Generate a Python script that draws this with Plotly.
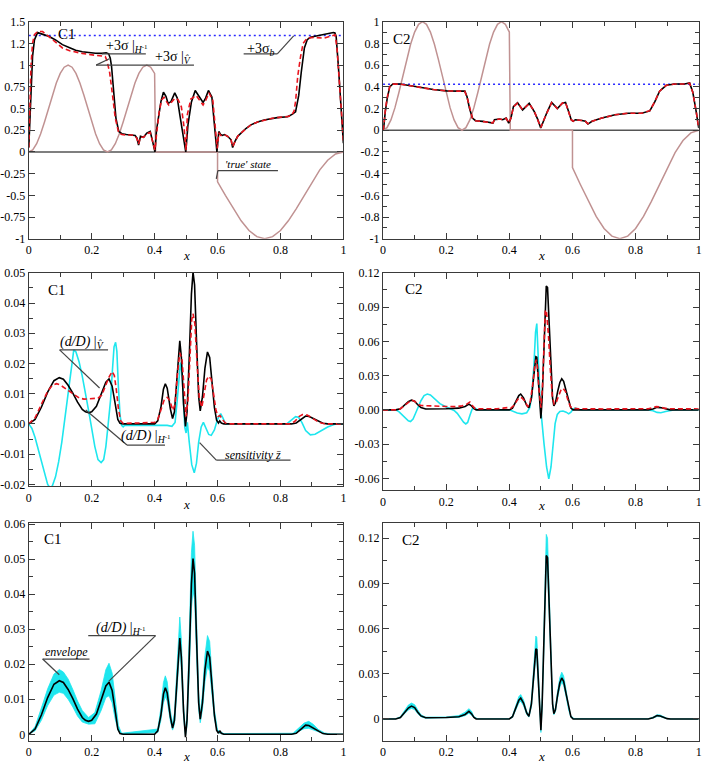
import plotly.graph_objects as go

# ---------------- data ----------------
true_x = [0.0, 0.0125, 0.025, 0.0375, 0.05, 0.0625, 0.075, 0.0875, 0.1, 0.1125, 0.125, 0.1375, 0.15, 0.1625,
          0.175, 0.1875, 0.2, 0.2125, 0.225, 0.2375, 0.25, 0.2625, 0.275, 0.2875, 0.3, 0.3125, 0.325, 0.3375,
          0.35, 0.3625, 0.375, 0.3875, 0.4, 0.403, 0.6, 0.6, 0.625, 0.65, 0.675, 0.7, 0.725, 0.75, 0.775, 0.8,
          0.825, 0.85, 0.875, 0.9, 0.925, 0.95, 0.975, 1.0]
true_y = [0, 0.024, 0.095, 0.206, 0.345, 0.5, 0.655, 0.794, 0.905, 0.976, 1.0, 0.976, 0.905, 0.794, 0.655,
          0.5, 0.345, 0.206, 0.095, 0.024, 0, 0.024, 0.095, 0.206, 0.345, 0.5, 0.655, 0.794, 0.905, 0.976,
          1.0, 0.976, 0.905, 0, 0, -0.345, -0.5, -0.655, -0.794, -0.905, -0.976, -1.0, -0.976, -0.905,
          -0.794, -0.655, -0.5, -0.345, -0.206, -0.095, -0.024, 0]

# C1 : +3 sigma |H^-1 (black) and +3 sigma |V (red dashed)
s1_x = [0, 0.004, 0.007, 0.012, 0.018, 0.028, 0.04, 0.065, 0.085, 0.107, 0.13, 0.149, 0.17, 0.191, 0.212,
        0.233, 0.246, 0.254, 0.259, 0.263, 0.27, 0.277, 0.286, 0.296, 0.31, 0.328, 0.338, 0.344, 0.349, 0.355,
        0.365, 0.375, 0.386, 0.393, 0.401, 0.406, 0.412, 0.42, 0.428, 0.436, 0.443, 0.452, 0.464, 0.472, 0.48,
        0.49, 0.499, 0.506, 0.517, 0.529, 0.54, 0.554, 0.562, 0.571, 0.582, 0.59, 0.598, 0.604, 0.61, 0.615,
        0.622, 0.632, 0.643, 0.648, 0.655, 0.664, 0.674, 0.69, 0.706, 0.727, 0.748, 0.77, 0.79, 0.822, 0.837,
        0.848, 0.853, 0.858, 0.866, 0.876, 0.885, 0.895, 0.906, 0.92, 0.937, 0.953, 0.968, 0.973, 0.977, 0.984,
        0.99, 0.995, 1.0]
s1_y = [0.05, 0.45, 0.8, 1.1, 1.29, 1.375, 1.36, 1.33, 1.29, 1.236, 1.2, 1.172, 1.155, 1.142, 1.137,
        1.135, 1.142, 1.13, 1.08, 0.99, 0.69, 0.39, 0.236, 0.21, 0.2, 0.198, 0.19, 0.16, 0.08, 0.179,
        0.168, 0.217, 0.236, 0.13, 0.0, 0.25, 0.39, 0.58, 0.689, 0.64, 0.557, 0.58, 0.68, 0.62, 0.43,
        0.22, 0.0, 0.312, 0.576, 0.708, 0.64, 0.569, 0.62, 0.708, 0.632, 0.35, 0.0, 0.236, 0.2, 0.19,
        0.2, 0.18, 0.14, 0.05, 0.12, 0.18, 0.217, 0.27, 0.312, 0.345, 0.368, 0.385, 0.395, 0.406, 0.432,
        0.462, 0.55, 0.651, 0.915, 1.198, 1.293, 1.32, 1.33, 1.34, 1.349, 1.36, 1.376, 1.37, 1.33, 0.99,
        0.614, 0.3, 0.1]
r1_x = [0, 0.004, 0.007, 0.012, 0.018, 0.028, 0.044, 0.07, 0.09, 0.107, 0.13, 0.149, 0.17, 0.191, 0.212,
        0.233, 0.243, 0.249, 0.257, 0.265, 0.275, 0.286, 0.296, 0.31, 0.328, 0.338, 0.344, 0.349, 0.355, 0.365,
        0.375, 0.386, 0.393, 0.401, 0.406, 0.414, 0.422, 0.43, 0.438, 0.445, 0.455, 0.465, 0.475, 0.485, 0.493,
        0.5, 0.504, 0.515, 0.532, 0.543, 0.554, 0.563, 0.573, 0.585, 0.592, 0.599, 0.604, 0.61, 0.615, 0.622,
        0.632, 0.643, 0.648, 0.655, 0.664, 0.674, 0.69, 0.706, 0.727, 0.748, 0.77, 0.79, 0.81, 0.825, 0.835,
        0.843, 0.848, 0.855, 0.864, 0.872, 0.885, 0.906, 0.937, 0.958, 0.974, 0.98, 0.99, 0.995, 1.0]
r1_y = [0.05, 0.6, 0.99, 1.25, 1.35, 1.387, 1.387, 1.31, 1.25, 1.198, 1.165, 1.149, 1.135, 1.123, 1.115,
        1.11, 1.1, 1.047, 0.915, 0.689, 0.388, 0.217, 0.2, 0.195, 0.195, 0.185, 0.15, 0.09, 0.17, 0.17,
        0.21, 0.225, 0.14, 0.02, 0.2, 0.45, 0.6, 0.63, 0.58, 0.54, 0.58, 0.62, 0.6, 0.52, 0.3,
        0.02, 0.43, 0.61, 0.65, 0.6, 0.54, 0.6, 0.68, 0.594, 0.35, 0.04, 0.22, 0.19, 0.19, 0.2,
        0.18, 0.14, 0.06, 0.12, 0.18, 0.217, 0.27, 0.312, 0.345, 0.368, 0.385, 0.395, 0.4, 0.41, 0.42,
        0.47, 0.58, 0.877, 1.1, 1.25, 1.31, 1.32, 1.31, 1.337, 1.349, 1.18, 0.72, 0.4, 0.12]
sigb_c1 = 1.342

# C2 : +3 sigma curves
s2_x = [0, 0.002, 0.007, 0.013, 0.021, 0.031, 0.054, 0.086, 0.117, 0.159, 0.201, 0.243, 0.259, 0.266, 0.274,
        0.283, 0.293, 0.316, 0.34, 0.348, 0.353, 0.369, 0.379, 0.39, 0.398, 0.405, 0.413, 0.426, 0.442, 0.463,
        0.479, 0.49, 0.4995, 0.51, 0.52, 0.534, 0.552, 0.568, 0.578, 0.588, 0.596, 0.602, 0.609, 0.63, 0.641,
        0.649, 0.662, 0.693, 0.735, 0.777, 0.819, 0.845, 0.861, 0.876, 0.897, 0.924, 0.955, 0.971, 0.981, 0.992,
        1.0]
s2_y = [0.0, 0.02, 0.17, 0.29, 0.4, 0.426, 0.426, 0.414, 0.396, 0.375, 0.363, 0.36, 0.36, 0.308, 0.2,
        0.112, 0.088, 0.082, 0.075, 0.066, 0.097, 0.103, 0.097, 0.112, 0.066, 0.11, 0.218, 0.254, 0.187, 0.248,
        0.172, 0.1, 0.02, 0.1, 0.17, 0.257, 0.2, 0.25, 0.257, 0.17, 0.097, 0.082, 0.097, 0.09, 0.082,
        0.057, 0.082, 0.112, 0.142, 0.157, 0.157, 0.178, 0.263, 0.36, 0.414, 0.426, 0.426, 0.435, 0.353, 0.17,
        0.02]
r2_y = [0.0, 0.03, 0.18, 0.3, 0.4, 0.425, 0.425, 0.413, 0.395, 0.375, 0.362, 0.36, 0.358, 0.305, 0.2,
        0.112, 0.088, 0.082, 0.075, 0.068, 0.095, 0.103, 0.097, 0.11, 0.068, 0.11, 0.215, 0.25, 0.19, 0.245,
        0.175, 0.1, 0.025, 0.1, 0.17, 0.255, 0.2, 0.25, 0.255, 0.17, 0.097, 0.082, 0.097, 0.09, 0.082,
        0.06, 0.082, 0.112, 0.142, 0.157, 0.157, 0.18, 0.265, 0.36, 0.414, 0.426, 0.426, 0.433, 0.35, 0.17,
        0.02]
sigb_c2 = 0.423

# C1 : (d/D) curves and sensitivity
d1_x = [0, 0.02, 0.04, 0.06, 0.08, 0.097, 0.11, 0.125, 0.14, 0.155, 0.17, 0.18, 0.19, 0.2, 0.215, 0.23, 0.245,
        0.255, 0.265, 0.275, 0.283, 0.29, 0.3, 0.4, 0.41, 0.42, 0.428, 0.434, 0.44, 0.45, 0.457, 0.463, 0.47,
        0.477, 0.48, 0.485, 0.492, 0.498, 0.503, 0.51, 0.517, 0.522, 0.527, 0.533, 0.54, 0.545, 0.552, 0.56,
        0.568, 0.575, 0.583, 0.59, 0.597, 0.603, 0.607, 0.612, 0.62, 0.835, 0.85, 0.865, 0.88, 0.89, 0.905,
        0.92, 0.935, 0.95, 1.0]
d1_y = [0, 0.0015, 0.0055, 0.0105, 0.0143, 0.0153, 0.0148, 0.0128, 0.0102, 0.0072, 0.0048, 0.004, 0.0037,
        0.004, 0.0058, 0.0095, 0.0138, 0.0149, 0.0125, 0.0065, 0.0015, 0.0002, 0, 0, 0.001, 0.0055, 0.0115,
        0.0133, 0.0118, 0.005, 0.0018, 0.004, 0.015, 0.0265, 0.0275, 0.022, 0.0065, -0.0008, 0.004, 0.022,
        0.043, 0.0502, 0.046, 0.028, 0.009, 0.0043, 0.009, 0.0185, 0.0238, 0.022, 0.013, 0.0055, 0.0012,
        0.0003, 0.001, 0.0003, 0, 0, 0.0003, 0.0015, 0.0026, 0.0025, 0.0017, 0.0008, 0.0002, 0, 0]
v1_x = [0, 0.02, 0.04, 0.06, 0.075, 0.088, 0.1, 0.115, 0.13, 0.145, 0.16, 0.175, 0.19, 0.205, 0.22, 0.232,
        0.245, 0.255, 0.265, 0.272, 0.278, 0.285, 0.292, 0.3, 0.35, 0.4, 0.41, 0.42, 0.43, 0.44, 0.448, 0.458,
        0.465, 0.472, 0.48, 0.487, 0.493, 0.5, 0.506, 0.512, 0.518, 0.522, 0.528, 0.535, 0.542, 0.55, 0.557,
        0.565, 0.572, 0.58, 0.588, 0.595, 0.602, 0.608, 0.615, 0.625, 0.64, 0.83, 0.845, 0.86, 0.87, 0.885,
        0.9, 0.915, 0.93, 0.945, 1.0]
v1_y = [0, 0.002, 0.0065, 0.0108, 0.0128, 0.0133, 0.0129, 0.0118, 0.0105, 0.0094, 0.0086, 0.0082, 0.0083,
        0.0084, 0.0085, 0.0095, 0.0128, 0.0155, 0.0173, 0.016, 0.0115, 0.005, 0.001, 0.0002, 0.0003, 0.0005,
        0.0015, 0.0045, 0.0078, 0.0088, 0.0078, 0.0045, 0.0065, 0.016, 0.0235, 0.0215, 0.012, 0.0025, 0.008,
        0.022, 0.0345, 0.0365, 0.033, 0.02, 0.0085, 0.0055, 0.0095, 0.0145, 0.0158, 0.0148, 0.0095, 0.0045,
        0.0025, 0.0028, 0.0015, 0.0003, 0, 0, 0.0008, 0.0025, 0.0031, 0.0029, 0.002, 0.001, 0.0003, 0, 0]
z1_x = [0, 0.01, 0.02, 0.03, 0.04, 0.05, 0.06, 0.068, 0.075, 0.085, 0.095, 0.105, 0.115, 0.125, 0.135, 0.143,
        0.15, 0.16, 0.17, 0.18, 0.19, 0.2, 0.21, 0.22, 0.23, 0.238, 0.245, 0.252, 0.26, 0.266, 0.271, 0.276,
        0.28, 0.285, 0.29, 0.295, 0.3, 0.305, 0.32, 0.4, 0.44, 0.455, 0.465, 0.472, 0.478, 0.482, 0.487, 0.492,
        0.496, 0.5, 0.504, 0.51, 0.518, 0.526, 0.533, 0.54, 0.548, 0.555, 0.562, 0.572, 0.58, 0.59, 0.6, 0.61,
        0.617, 0.625, 0.82, 0.835, 0.848, 0.857, 0.868, 0.88, 0.895, 0.91, 0.93, 0.95, 0.97, 0.98, 1.0]
z1_y = [0, -0.0015, -0.0045, -0.0085, -0.0128, -0.0168, -0.02, -0.0212, -0.0205, -0.0175, -0.0125, -0.006,
        0.002, 0.011, 0.0198, 0.0245, 0.0238, 0.0205, 0.0158, 0.0105, 0.0045, -0.0015, -0.0075, -0.0118,
        -0.0128, -0.0118, -0.0075, -0.0005, 0.008, 0.018, 0.0255, 0.027, 0.024, 0.012, 0.003, -0.0005, -0.001,
        -0.0004, -0.0004, -0.0004, -0.0005, -0.0008, 0.0005, 0.008, 0.017, 0.0203, 0.017, 0.006, -0.0012,
        -0.003, 0.0005, -0.006, -0.0135, -0.0162, -0.013, -0.006, -0.001, 0.0005, -0.001, -0.0035, -0.0038,
        -0.002, 0.0015, 0.0034, 0.002, 0, 0, 0.0012, 0.0024, 0.0022, 0.0005, -0.0022, -0.0036, -0.0034,
        -0.0022, -0.001, -0.0002, 0, 0]

# C2 : (d/D) curves and sensitivity
d2_x = [0, 0.04, 0.055, 0.07, 0.08, 0.09, 0.1, 0.11, 0.12, 0.135, 0.16, 0.2, 0.24, 0.26, 0.272, 0.28, 0.288,
        0.295, 0.4, 0.41, 0.42, 0.43, 0.436, 0.445, 0.455, 0.462, 0.47, 0.477, 0.484, 0.487, 0.492, 0.496, 0.5,
        0.504, 0.51, 0.514, 0.517, 0.521, 0.526, 0.532, 0.537, 0.541, 0.546, 0.553, 0.56, 0.566, 0.572, 0.58,
        0.588, 0.595, 0.602, 0.84, 0.855, 0.868, 0.878, 0.89, 0.9, 0.91, 1.0]
d2_y = [0, 0, 0.001, 0.0045, 0.0072, 0.0085, 0.0075, 0.0045, 0.002, 0.0008, 0.0008, 0.001, 0.0015, 0.003,
        0.005, 0.0035, 0.001, 0, 0, 0.0015, 0.007, 0.0125, 0.0138, 0.0105, 0.004, 0.0018, 0.01, 0.03, 0.0465,
        0.046, 0.028, 0.008, -0.0075, 0.01, 0.06, 0.1, 0.1085, 0.107, 0.075, 0.035, 0.01, 0.0035, 0.006,
        0.016, 0.024, 0.0272, 0.025, 0.0165, 0.007, 0.0015, 0, 0, 0.0008, 0.0022, 0.002, 0.001, 0.0002, 0, 0]
v2_x = [0, 0.04, 0.055, 0.07, 0.08, 0.09, 0.1, 0.11, 0.12, 0.14, 0.17, 0.2, 0.23, 0.25, 0.265, 0.275, 0.282,
        0.29, 0.3, 0.33, 0.36, 0.38, 0.395, 0.405, 0.415, 0.425, 0.432, 0.44, 0.448, 0.458, 0.465, 0.473, 0.48,
        0.485, 0.489, 0.494, 0.5, 0.505, 0.51, 0.514, 0.518, 0.524, 0.53, 0.536, 0.542, 0.548, 0.555, 0.563,
        0.57, 0.578, 0.585, 0.593, 0.6, 0.62, 0.7, 0.8, 0.84, 0.855, 0.865, 0.878, 0.89, 0.905, 0.95, 1.0]
v2_y = [0, 0, 0.001, 0.0045, 0.007, 0.0085, 0.0075, 0.005, 0.0038, 0.0035, 0.003, 0.003, 0.0028, 0.0035,
        0.005, 0.0068, 0.004, 0.0015, 0.001, 0.0008, 0.001, 0.0015, 0.002, 0.0015, 0.004, 0.0085, 0.011,
        0.0105, 0.008, 0.003, 0.005, 0.02, 0.038, 0.044, 0.038, 0.018, 0.002, 0.02, 0.065, 0.0875, 0.085,
        0.065, 0.035, 0.012, 0.005, 0.006, 0.0115, 0.017, 0.019, 0.016, 0.009, 0.003, 0.0015, 0.001, 0.0008,
        0.0008, 0.001, 0.002, 0.0028, 0.0025, 0.0015, 0.001, 0.0008, 0.0008]
z2_x = [0, 0.04, 0.05, 0.06, 0.07, 0.08, 0.087, 0.095, 0.103, 0.11, 0.12, 0.13, 0.14, 0.15, 0.165, 0.18, 0.2,
        0.215, 0.225, 0.235, 0.245, 0.255, 0.262, 0.268, 0.275, 0.282, 0.288, 0.295, 0.3, 0.4, 0.41, 0.425,
        0.44, 0.455, 0.465, 0.472, 0.478, 0.483, 0.487, 0.49, 0.494, 0.498, 0.503, 0.51, 0.518, 0.525, 0.532,
        0.538, 0.545, 0.552, 0.56, 0.57, 0.58, 0.588, 0.595, 0.602, 0.61, 0.62, 0.63, 0.84, 0.855, 0.868,
        0.88, 0.895, 0.91, 0.92, 1.0]
z2_y = [0, 0, -0.0015, -0.004, -0.007, -0.0095, -0.0102, -0.008, -0.003, 0.002, 0.008, 0.0125, 0.0138,
        0.013, 0.0095, 0.0055, 0.0025, 0.001, -0.0005, -0.003, -0.007, -0.0108, -0.0123, -0.011, -0.005,
        0.0005, 0.002, 0.001, 0, 0, -0.001, -0.0028, -0.0035, -0.0025, 0.002, 0.015, 0.04, 0.068, 0.0755,
        0.06, 0.03, 0.005, -0.012, -0.03, -0.05, -0.0605, -0.05, -0.03, -0.012, -0.004, -0.0015, -0.001,
        -0.002, -0.0035, -0.002, 0.0008, 0.0015, 0.0003, 0, 0, -0.0008, -0.0022, -0.0025, -0.0015, -0.0003,
        0, 0]

# envelopes (bottom panels)
e1_x = [0, 0.02, 0.04, 0.06, 0.08, 0.097, 0.11, 0.125, 0.14, 0.155, 0.17, 0.19, 0.21, 0.23, 0.245, 0.255,
        0.265, 0.275, 0.285, 0.295, 0.41, 0.42, 0.428, 0.434, 0.44, 0.45, 0.457, 0.463, 0.47, 0.477, 0.48,
        0.485, 0.492, 0.498, 0.503, 0.51, 0.517, 0.522, 0.527, 0.533, 0.54, 0.545, 0.552, 0.56, 0.568, 0.575,
        0.583, 0.59, 0.6, 0.62, 0.84, 0.86, 0.875, 0.89, 0.905, 0.92, 0.94, 0.96, 1.0]
e1_hi = [0, 0.0022, 0.0075, 0.013, 0.0172, 0.0185, 0.0178, 0.0158, 0.0128, 0.0095, 0.0068, 0.0048, 0.0062,
         0.0125, 0.0185, 0.0203, 0.0175, 0.0098, 0.0025, 0.0003, 0.0015, 0.0075, 0.0148, 0.0167, 0.015,
         0.0068, 0.003, 0.006, 0.019, 0.032, 0.0335, 0.027, 0.0085, 0.0005, 0.006, 0.028, 0.052, 0.058, 0.054,
         0.034, 0.012, 0.0058, 0.0115, 0.0225, 0.0282, 0.0265, 0.016, 0.007, 0.0012, 0.0002, 0.0003, 0.0018,
         0.0032, 0.0037, 0.0028, 0.0014, 0.0004, 0.0001, 0]
e1_lo = [0, 0.001, 0.004, 0.0082, 0.0112, 0.012, 0.0117, 0.01, 0.0078, 0.0052, 0.0035, 0.0029, 0.003,
         0.0068, 0.0105, 0.011, 0.009, 0.0042, 0.0008, 0, 0.0005, 0.004, 0.009, 0.0108, 0.0095, 0.0038,
         0.0012, 0.0028, 0.011, 0.0225, 0.025, 0.0185, 0.005, -0.0005, 0.0025, 0.017, 0.036, 0.041, 0.0385,
         0.023, 0.007, 0.0033, 0.007, 0.015, 0.0193, 0.018, 0.0105, 0.0045, 0.0005, 0, 0, 0.0008, 0.0016,
         0.0017, 0.0012, 0.0006, 0.0001, 0, 0]
e2_x = [0, 0.04, 0.055, 0.07, 0.08, 0.09, 0.1, 0.11, 0.12, 0.135, 0.2, 0.24, 0.26, 0.272, 0.28, 0.288, 0.3,
        0.4, 0.41, 0.42, 0.43, 0.436, 0.445, 0.455, 0.462, 0.47, 0.477, 0.484, 0.487, 0.492, 0.496, 0.5, 0.504,
        0.51, 0.514, 0.517, 0.521, 0.526, 0.532, 0.537, 0.541, 0.546, 0.553, 0.56, 0.566, 0.572, 0.58, 0.588,
        0.595, 0.605, 0.84, 0.855, 0.868, 0.878, 0.89, 0.9, 0.915, 1.0]
e2_hi = [0, 0.0002, 0.0015, 0.006, 0.0092, 0.0105, 0.0095, 0.006, 0.0028, 0.0012, 0.0013, 0.0022, 0.0045,
         0.0068, 0.0052, 0.0015, 0.0002, 0.0002, 0.0022, 0.0085, 0.0148, 0.0162, 0.0125, 0.0052, 0.0025,
         0.0125, 0.036, 0.055, 0.054, 0.033, 0.01, -0.005, 0.013, 0.07, 0.113, 0.1225, 0.12, 0.085, 0.04,
         0.012, 0.0045, 0.0075, 0.0185, 0.0275, 0.031, 0.0285, 0.019, 0.0082, 0.002, 0.0003, 0.0002, 0.0012,
         0.0028, 0.0026, 0.0014, 0.0004, 0, 0]
e2_lo = [0, 0, 0.0007, 0.0035, 0.006, 0.007, 0.0062, 0.0035, 0.0014, 0.0005, 0.0007, 0.001, 0.0022, 0.0038,
         0.0025, 0.0007, 0, 0, 0.001, 0.0058, 0.0105, 0.0118, 0.0088, 0.003, 0.0012, 0.008, 0.025, 0.041,
         0.04, 0.024, 0.006, -0.009, 0.007, 0.052, 0.091, 0.1, 0.098, 0.068, 0.031, 0.008, 0.0028, 0.0048,
         0.0138, 0.021, 0.0245, 0.0222, 0.0145, 0.0058, 0.001, 0, 0, 0.0005, 0.0016, 0.0015, 0.0007, 0.0001,
         0, 0]

x_ticks = [0, 0.2, 0.4, 0.6, 0.8, 1.0]
x_labels = ["0", "0.2", "0.4", "0.6", "0.8", "1"]
y1_ticks = [-1, -0.75, -0.5, -0.25, 0, 0.25, 0.5, 0.75, 1, 1.25, 1.5]
y1_labels = ["-1", "-0.75", "-0.5", "-0.25", "0", "0.25", "0.5", "0.75", "1", "1.2", "1.5"]
y2_ticks = [-1, -0.8, -0.6, -0.4, -0.2, 0, 0.2, 0.4, 0.6, 0.8, 1]
y2_labels = ["-1", "-0.8", "-0.6", "-0.4", "-0.2", "0", "0.2", "0.4", "0.6", "0.8", "1"]
y3_ticks = [-0.02, -0.01, 0, 0.01, 0.02, 0.03, 0.04, 0.05]
y3_labels = ["-0.02", "-0.01", "0.00", "0.01", "0.02", "0.03", "0.04", "0.05"]
y4_ticks = [-0.06, -0.03, 0, 0.03, 0.06, 0.09, 0.12]
y4_labels = ["-0.06", "-0.03", "0.00", "0.03", "0.06", "0.09", "0.12"]
y5_ticks = [0, 0.01, 0.02, 0.03, 0.04, 0.05, 0.06]
y5_labels = ["0", "0.01", "0.02", "0.03", "0.04", "0.05", "0.06"]
y6_ticks = [0, 0.03, 0.06, 0.09, 0.12]
y6_labels = ["0", "0.03", "0.06", "0.09", "0.12"]

# ---------------- figure ----------------
W, H = 708, 774
FONT = "Liberation Serif, Times New Roman, serif"
BLACK = "#000000"
RED = "#e8141e"
CYAN = "#1ee6ee"
ROSY = "rgb(192,146,146)"
BLUE = "#2a2aff"
AX = "#3a3a3a"

fig = go.Figure()

def px_dom_x(a, b):
    return [a / W, b / W]

def px_dom_y(top, bot):
    return [1 - bot / H, 1 - top / H]

panels = {
    1: dict(dx=px_dom_x(26, 343.3), dy=px_dom_y(15, 236), yr=[-1, 1.5], yt=y1_ticks, yl=y1_labels, ym=None),
    2: dict(dx=px_dom_x(383.3, 701.7), dy=px_dom_y(15, 236), yr=[-1, 1], yt=y2_ticks, yl=y2_labels, ym=0.1),
    3: dict(dx=px_dom_x(26, 343.3), dy=px_dom_y(270.7, 488.3), yr=[-0.0207, 0.05], yt=y3_ticks, yl=y3_labels, ym=0.005),
    4: dict(dx=px_dom_x(383.3, 701.7), dy=px_dom_y(270.7, 492.3), yr=[-0.0705, 0.12], yt=y4_ticks, yl=y4_labels, ym=0.015),
    5: dict(dx=px_dom_x(26, 343.3), dy=px_dom_y(525, 747.3), yr=[-0.00185, 0.0605], yt=y5_ticks, yl=y5_labels, ym=0.005),
    6: dict(dx=px_dom_x(383.3, 701.7), dy=px_dom_y(525, 747.3), yr=[-0.0145, 0.1304], yt=y6_ticks, yl=y6_labels, ym=0.015),
}

common = dict(showline=True, linecolor=AX, linewidth=1.3, mirror="allticks", ticks="inside",
              ticklen=6, tickwidth=1, tickcolor=AX, showgrid=False, zeroline=False,
              tickfont=dict(family=FONT, size=12, color="black"), fixedrange=True,
              ticklabeloverflow="allow")

layout = dict(width=W, height=H, margin=dict(l=0, r=0, t=0, b=0), autosize=False,
              paper_bgcolor="white", plot_bgcolor="white", showlegend=False,
              font=dict(family=FONT, color="black"))

for i, p in panels.items():
    sfx = "" if i == 1 else str(i)
    xa = dict(common, domain=p["dx"], range=[0, 1], anchor="y" + sfx, tickmode="array",
              tickvals=x_ticks, ticktext=x_labels,
              minor=dict(tickmode="linear", tick0=0, dtick=0.1, ticklen=4, tickcolor=AX, ticks="inside"))
    ya = dict(common, domain=p["dy"], range=p["yr"], anchor="x" + sfx, tickmode="array",
              tickvals=p["yt"], ticktext=p["yl"])
    if p["ym"]:
        ya["minor"] = dict(tickmode="linear", tick0=0, dtick=p["ym"], ticklen=4, tickcolor=AX, ticks="inside")
    layout["xaxis" + sfx] = xa
    layout["yaxis" + sfx] = ya

fig.update_layout(**layout)

def line(xs, ys, i, color, width=1.5, dash=None, **kw):
    sfx = "" if i == 1 else str(i)
    ln = dict(color=color, width=width)
    if dash:
        ln["dash"] = dash
    fig.add_trace(go.Scatter(x=xs, y=ys, mode="lines", line=ln, xaxis="x" + sfx, yaxis="y" + sfx,
                             hoverinfo="skip", **kw))

# top panels
for i, (sx, sy, rx, ry, sb) in {1: (s1_x, s1_y, r1_x, r1_y, sigb_c1), 2: (s2_x, s2_y, s2_x, r2_y, sigb_c2)}.items():
    line([0, 1], [0, 0], i, "#555555", 1.5)
    line(true_x, true_y, i, ROSY, 1.5)
    line([0, 1], [sb, sb], i, BLUE, 1.5, dash="2px,3px")
    line(sx, sy, i, BLACK, 1.6)
    line(rx, ry, i, RED, 1.6, dash="5px,3px")

# middle panels
line(z1_x, z1_y, 3, CYAN, 1.6)
line(d1_x, d1_y, 3, BLACK, 1.6)
line(v1_x, v1_y, 3, RED, 1.6, dash="5px,3px")
line(z2_x, z2_y, 4, CYAN, 1.6)
line(d2_x, d2_y, 4, BLACK, 1.6)
line(v2_x, v2_y, 4, RED, 1.6, dash="5px,3px")

# bottom panels
for i, (ex, lo, hi, dx, dy) in {5: (e1_x, e1_lo, e1_hi, d1_x, d1_y), 6: (e2_x, e2_lo, e2_hi, d2_x, d2_y)}.items():
    line(ex, lo, i, CYAN, 0.8)
    line(ex, hi, i, CYAN, 0.8, fill="tonexty", fillcolor=CYAN)
    line(dx, dy, i, BLACK, 1.6)

# annotations
ann = []
shapes = []

def text(i, x, y, s, size=13, xanchor="center"):
    sfx = "" if i == 1 else str(i)
    ann.append(dict(x=x, y=y, xref="x" + sfx, yref="y" + sfx, text=s, showarrow=False,
                    font=dict(family=FONT, size=size, color="black"), xanchor=xanchor, yanchor="middle"))

def seg(i, x0, y0, x1, y1):
    sfx = "" if i == 1 else str(i)
    shapes.append(dict(type="line", x0=x0, y0=y0, x1=x1, y1=y1, xref="x" + sfx, yref="y" + sfx,
                       line=dict(color="#444444", width=1.2)))

text(1, 0.123, 1.353, "C1", 15)
text(2, 0.061, 0.837, "C2", 15)
text(3, 0.09, 0.0444, "C1", 15)
text(4, 0.097, 0.106, "C2", 15)
text(5, 0.076, 0.0557, "C1", 15)
text(6, 0.088, 0.119, "C2", 15)

text(1, 0.312, 1.215, "+3σ |<sub><i>H</i><sup>-1</sup></sub>", 14)
seg(1, 0.233, 1.13, 0.372, 1.13)
text(1, 0.46, 1.09, "+3σ |<sub><i>V̂</i></sub>", 14)
seg(1, 0.214, 1.0, 0.525, 1.0)
seg(1, 0.214, 1.0, 0.256, 1.074)
text(1, 0.737, 1.183, "+3σ<sub><i>b</i></sub>", 14)
seg(1, 0.683, 1.13, 0.79, 1.13)
seg(1, 0.79, 1.13, 0.842, 1.338)
text(1, 0.697, -0.14, "<i>'true' state</i>", 11)
seg(1, 0.601, -0.216, 0.792, -0.216)
seg(1, 0.601, -0.216, 0.596, -0.31)

text(3, 0.168, 0.0268, "<i>(d/D)</i> |<sub><i>V̂</i></sub>", 14)
seg(3, 0.098, 0.0245, 0.252, 0.0245)
seg(3, 0.098, 0.0245, 0.225, 0.0119)
text(3, 0.372, -0.0043, "<i>(d/D)</i> |<sub><i>H</i><sup>-1</sup></sub>", 14)
seg(3, 0.312, -0.007, 0.433, -0.007)
seg(3, 0.312, -0.007, 0.181, 0.0046)
text(3, 0.712, -0.0102, "<i>sensitivity z̄</i>", 12)
seg(3, 0.596, -0.012, 0.832, -0.012)
seg(3, 0.596, -0.012, 0.543, -0.0062)

text(5, 0.12, 0.0236, "<i>envelope</i>", 12)
seg(5, 0.044, 0.0215, 0.193, 0.0215)
seg(5, 0.044, 0.0215, 0.097, 0.017)
text(5, 0.292, 0.0303, "<i>(d/D)</i> |<sub><i>H</i><sup>-1</sup></sub>", 14)
seg(5, 0.189, 0.0282, 0.403, 0.0282)
seg(5, 0.403, 0.0282, 0.254, 0.0151)

# x axis titles
for cx, cy in [(185, 253), (543, 253), (185, 507), (543, 508), (185, 763), (543, 763)]:
    ann.append(dict(x=cx / W, y=1 - cy / H, xref="paper", yref="paper", text="<i>x</i>", showarrow=False,
                    font=dict(family=FONT, size=13, color="black"), xanchor="center", yanchor="middle"))

fig.update_layout(annotations=ann, shapes=shapes)
fig.write_html("out.html", config={"displayModeBar": False},
               post_script="document.body.style.margin='0';document.documentElement.style.overflow='hidden';")
